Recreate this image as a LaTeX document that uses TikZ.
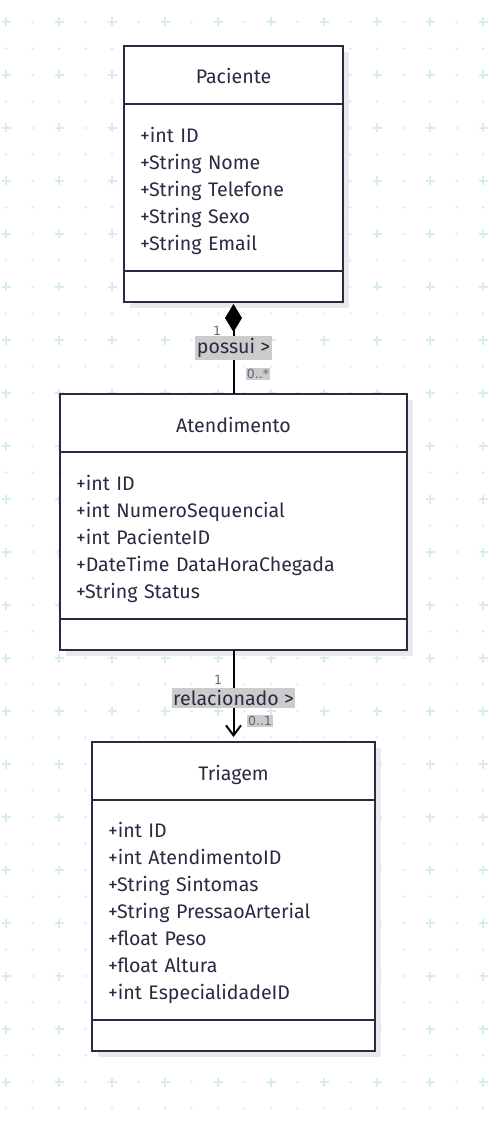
\documentclass[tikz,border=0pt]{standalone}
\usepackage{fontspec}
\setmainfont{Fira Sans}
\newfontfamily\cardfont{DejaVu Sans}
\usetikzlibrary{positioning,arrows.meta,shadows}
\definecolor{umlink}{RGB}{42,42,64}
\definecolor{gridcol}{RGB}{214,236,240}
\definecolor{lblgray}{RGB}{204,204,204}
\definecolor{cardcol}{RGB}{100,100,135}
\definecolor{shadowcol}{RGB}{233,233,233}

\begin{document}
\begin{tikzpicture}[x=1pt,y=-1pt,
	box/.style={draw=umlink,line width=2.5pt,fill=white,outer sep=0pt,text=umlink,
		font=\fontsize{19.6}{27}\selectfont,
		drop shadow={shadow xshift=6pt,shadow yshift=-6pt,fill=shadowcol,opacity=1}},
	classtitle/.style={box,minimum height=58pt,text height=18pt,text depth=0pt},
	classattr/.style={box,align=left,inner xsep=16pt},
	classmeth/.style={box,minimum height=31pt},
	assoc/.style={draw=black,line width=2pt},
	rolelabel/.style={fill=lblgray,text=umlink,inner xsep=1.5pt,inner ysep=2pt,
		font=\fontsize{19.6}{22}\selectfont},
	card/.style={text=cardcol,inner sep=1pt,font=\cardfont\fontsize{12.5}{14}\selectfont}]
	\useasboundingbox (0,0) rectangle (498,1131);
	\foreach \i in {0,...,18}
		\foreach \j in {0,...,42}
			\fill[gridcol] (6+26.5*\i,22+26.5*\j) circle (1.4pt);
	\foreach \i in {0,...,9}
		\foreach \j in {0,...,21}
			\draw[gridcol,line width=1.8pt] (1.5+53*\i,22+53*\j) -- ++(9,0) (6+53*\i,17.5+53*\j) -- ++(0,9);

	\node[classtitle,minimum width=219pt] (pacienteTitle) at (233.5,75) {Paciente};
	\node[classattr,text width=187pt,minimum height=167pt,below=0pt of pacienteTitle] (pacienteAttr)
		{\rule{0pt}{22pt}+int ID\\+String Nome\\+String Telefone\\+String Sexo\\+String Email};
	\node[classmeth,minimum width=219pt,below=0pt of pacienteAttr] (pacienteMeth) {};

	\node[classtitle,minimum width=347pt] (atendimentoTitle) at (233.5,423) {Atendimento};
	\node[classattr,text width=315pt,minimum height=167pt,below=0pt of atendimentoTitle] (atendimentoAttr)
		{\rule{0pt}{22pt}+int ID\\+int NumeroSequencial\\+int PacienteID\\+DateTime DataHoraChegada\\+String Status};
	\node[classmeth,minimum width=347pt,below=0pt of atendimentoAttr] (atendimentoMeth) {};

	\node[classtitle,minimum width=283pt] (triagemTitle) at (233.5,771) {Triagem};
	\node[classattr,text width=251pt,minimum height=220pt,below=0pt of triagemTitle] (triagemAttr)
		{\rule{0pt}{22pt}+int ID\\+int AtendimentoID\\+String Sintomas\\+String PressaoArterial\\+float Peso\\+float Altura\\+int EspecialidadeID};
	\node[classmeth,minimum width=283pt,below=0pt of triagemAttr] (triagemMeth) {};

	\draw[assoc,{Diamond[length=28pt,width=17pt]}-,shorten <=2pt] (pacienteMeth.south) -- (atendimentoTitle.north)
		node[rolelabel,midway] (possui) {possui >};
	\draw[assoc,-{Straight Barb[length=10pt,width=15pt]},shorten >=5pt] (atendimentoMeth.south) -- (triagemTitle.north)
		node[rolelabel,pos=0.52] (relacionado) {relacionado >};

	\node[card] (possuiFrom) at (217,331) {1};
	\node[card,fill=lblgray] (possuiTo) at (258,374) {0..*};
	\node[card] (relacionadoFrom) at (218,680) {1};
	\node[card,fill=lblgray] (relacionadoTo) at (260,721) {0..1};
\end{tikzpicture}
\end{document}
